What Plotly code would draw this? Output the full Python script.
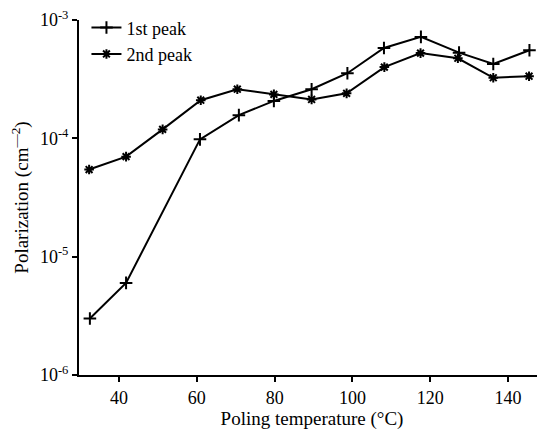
import plotly.graph_objects as go

x1 = [32.5, 41.8, 60.8, 70.8, 79.8, 89.5, 98.7, 108.1, 117.6, 127.4, 136.2, 145.5]
peak1 = [3.0e-6, 6.0e-6, 9.8e-5, 1.57e-4, 2.07e-4, 2.6e-4, 3.55e-4, 5.8e-4, 7.2e-4, 5.3e-4, 4.25e-4, 5.55e-4]

x2 = [32.3, 41.8, 51.2, 61.0, 70.4, 79.8, 89.5, 98.5, 108.2, 117.5, 127.1, 136.2, 145.4]
peak2 = [5.45e-5, 7.0e-5, 1.19e-4, 2.1e-4, 2.6e-4, 2.35e-4, 2.13e-4, 2.4e-4, 4.0e-4, 5.25e-4, 4.75e-4, 3.25e-4, 3.35e-4]

xticks = [40, 60, 80, 100, 120, 140]
yticks = [1e-6, 1e-5, 1e-4, 1e-3]
ytick_text = ["10<sup>-6</sup>", "10<sup>-5</sup>", "10<sup>-4</sup>", "10<sup>-3</sup>"]

font = "Liberation Serif, Times New Roman, serif"

fig = go.Figure()
fig.add_trace(go.Scatter(
    x=x1, y=peak1, name="1st peak", mode="lines+markers",
    line=dict(color="black", width=2),
    marker=dict(symbol="cross-thin", size=9, color="black",
                line=dict(color="black", width=2)),
))
fig.add_trace(go.Scatter(
    x=x2, y=peak2, name="2nd peak", mode="lines+markers",
    line=dict(color="black", width=2),
    marker=dict(symbol="asterisk", size=8, color="black",
                line=dict(color="black", width=2)),
))

# the page body adds an 8px offset, so the figure is 8px smaller and the margins shifted
fig.update_layout(
    width=537, height=427,
    margin=dict(l=71, r=0, t=12, b=60, autoexpand=False),
    paper_bgcolor="white", plot_bgcolor="white",
    font=dict(family=font, size=18, color="black"),
    showlegend=True,
    legend=dict(x=0.016, y=1.03, xanchor="left", yanchor="top",
                bgcolor="rgba(0,0,0,0)", font=dict(size=18),
                tracegroupgap=0, itemwidth=30),
    xaxis=dict(
        range=[29.7, 149.5], tickvals=xticks, ticks="outside", ticklen=5,
        tickwidth=2, tickcolor="black", showline=True, linecolor="black",
        linewidth=2, showgrid=False, zeroline=False, automargin=False,
        ticklabeloverflow="allow",
        title=dict(text="Poling temperature (°C)", font=dict(size=19), standoff=5),
    ),
    yaxis=dict(
        type="log", range=[-6, -3], tickvals=yticks, ticktext=ytick_text,
        ticks="outside", ticklen=5, tickwidth=2, tickcolor="black",
        showline=True, linecolor="black", linewidth=2, showgrid=False,
        zeroline=False, automargin=False, ticklabeloverflow="allow",
        title=dict(text="Polarization (cm<sup>—2</sup>)", font=dict(size=19), standoff=10),
    ),
)

fig.write_html("out.html")
